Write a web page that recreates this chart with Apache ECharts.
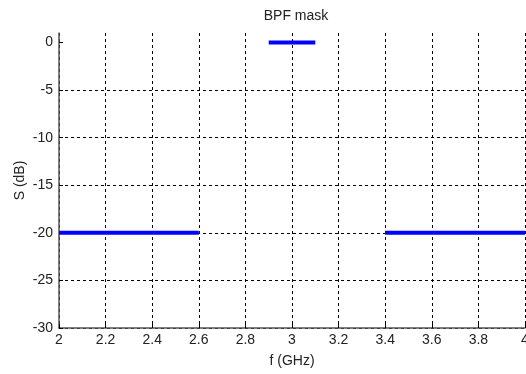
<!DOCTYPE html>
<html>
<head>
<meta charset="utf-8">
<script src="https://cdn.jsdelivr.net/npm/echarts@6/dist/echarts.min.js"></script>
<style>
html,body{margin:0;padding:0;background:#fff;}
#c{width:526px;height:374px;}
</style>
</head>
<body>
<div id="c"></div>
<script>
// Data
var title = 'BPF mask';
var xName = 'f (GHz)';
var yName = 'S (dB)';
var stopbandLow = [[2, -20], [2.6, -20]];
var passband = [[2.9, 0], [3.1, 0]];
var stopbandHigh = [[3.4, -20], [4, -20]];
var yTicks = [-30, -25, -20, -15, -10, -5, 0];
var xMin = 2, xMax = 4, xStep = 0.2;
var yMin = -30, yMax = 1, yStep = 5;

var font = '"Liberation Sans", Arial, sans-serif';
var chart = echarts.init(document.getElementById('c'), null, {renderer: 'canvas'});
function seg(d) {
  return {
    type: 'line', data: d, symbol: 'none', silent: true,
    lineStyle: {color: '#0000ff', width: 4, cap: 'butt'},
    animation: false
  };
}
chart.setOption({
  animation: false,
  backgroundColor: '#fff',
  title: {
    text: title, left: 291, top: 4, textAlign: 'center',
    textStyle: {fontFamily: font, fontSize: 14, fontWeight: 'normal', color: '#222'}
  },
  grid: {left: 59, right: 1, top: 33, bottom: 46, containLabel: false, outerBoundsMode: 'none'},
  xAxis: {
    type: 'value', min: xMin, max: xMax, interval: xStep,
    name: xName, nameLocation: 'middle', nameGap: 26, nameMoveOverlap: false,
    nameTextStyle: {fontFamily: font, fontSize: 14, color: '#222'},
    axisLine: {show: true, onZero: false, lineStyle: {color: '#555', width: 1.5}},
    axisTick: {show: true, inside: true, length: 4, lineStyle: {color: '#000'}},
    axisLabel: {fontFamily: font, fontSize: 14, color: '#222', margin: 5, hideOverlap: false},
    splitLine: {show: true, lineStyle: {color: '#000', width: 1, type: [3, 3]}}
  },
  yAxis: {
    type: 'value', min: yMin, max: yMax, interval: yStep,
    name: yName, nameLocation: 'middle', nameGap: 32, nameRotate: 90, nameMoveOverlap: false,
    nameTextStyle: {fontFamily: font, fontSize: 14, color: '#222'},
    axisLine: {show: true, onZero: false, lineStyle: {color: '#555', width: 1.5}},
    axisTick: {show: true, inside: true, length: 4, customValues: yTicks, lineStyle: {color: '#000'}},
    axisLabel: {fontFamily: font, fontSize: 14, color: '#222', margin: 6, customValues: yTicks},
    splitLine: {show: true, showMaxLine: false, lineStyle: {color: '#000', width: 1, type: [3, 3]}}
  },
  series: [seg(stopbandLow), seg(passband), seg(stopbandHigh)]
});
</script>
</body>
</html>
